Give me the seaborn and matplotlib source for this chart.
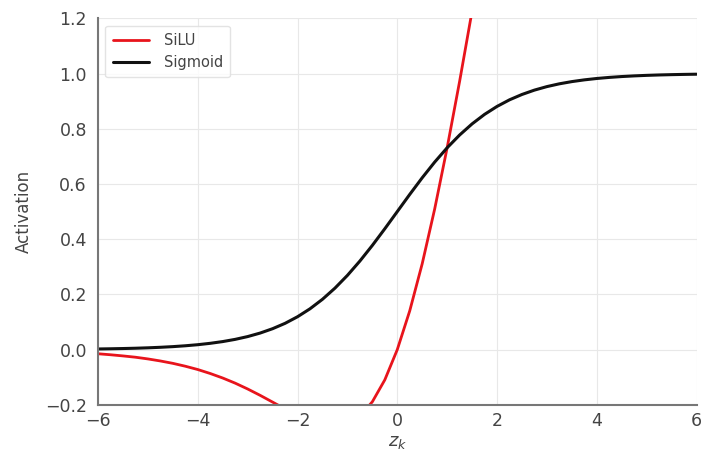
import matplotlib
matplotlib.use("Agg")
import matplotlib.pyplot as plt
import seaborn as sns
import pandas as pd

x_sig = [-6.0, -5.75, -5.5, -5.25, -5.0, -4.75, -4.5, -4.25, -4.0, -3.75, -3.5, -3.25,
         -3.0, -2.75, -2.5, -2.25, -2.0, -1.75, -1.5, -1.25, -1.0, -0.75, -0.5, -0.25,
         0.0, 0.25, 0.5, 0.75, 1.0, 1.25, 1.5, 1.75, 2.0, 2.25, 2.5, 2.75, 3.0, 3.25,
         3.5, 3.75, 4.0, 4.25, 4.5, 4.75, 5.0, 5.25, 5.5, 5.75, 6.0]
sigmoid = [0.0025, 0.0032, 0.0041, 0.0052, 0.0067, 0.0086, 0.0110, 0.0141, 0.0180, 0.0230,
           0.0293, 0.0373, 0.0474, 0.0601, 0.0759, 0.0953, 0.1192, 0.1480, 0.1824, 0.2227,
           0.2689, 0.3208, 0.3775, 0.4378, 0.5000, 0.5622, 0.6225, 0.6792, 0.7311, 0.7773,
           0.8176, 0.8520, 0.8808, 0.9047, 0.9241, 0.9399, 0.9526, 0.9627, 0.9707, 0.9770,
           0.9820, 0.9859, 0.9890, 0.9914, 0.9933, 0.9948, 0.9959, 0.9968, 0.9975]

x_silu = [-6.0, -5.75, -5.5, -5.25, -5.0, -4.75, -4.5, -4.25, -4.0, -3.75, -3.5, -3.25,
          -3.0, -2.75, -2.5, -2.25, -2.0, -1.75, -1.5, -1.25, -1.0, -0.75, -0.5, -0.25,
          0.0, 0.25, 0.5, 0.75, 1.0, 1.25, 1.5, 1.75, 2.0]
silu = [-0.0148, -0.0184, -0.0226, -0.0273, -0.0335, -0.0409, -0.0495, -0.0599, -0.0719,
        -0.0863, -0.1026, -0.1212, -0.1423, -0.1653, -0.1898, -0.2144, -0.2384, -0.2590,
        -0.2736, -0.2784, -0.2689, -0.2406, -0.1888, -0.1094, 0.0, 0.1406, 0.3112, 0.5094,
        0.7311, 0.9716, 1.2264, 1.4910, 1.7616]

x_ticks = [-6, -4, -2, 0, 2, 4, 6]
y_ticks = [-0.2, 0.0, 0.2, 0.4, 0.6, 0.8, 1.0, 1.2]

sns.set_style("whitegrid")
plt.rcParams['font.family'] = ['DejaVu Sans']

fig, ax = plt.subplots(figsize=(7.05, 4.57), dpi=100)
fig.subplots_adjust(left=0.139, right=0.988, top=0.96, bottom=0.114)

df_silu = pd.DataFrame({"x": x_silu, "y": silu})
df_sig = pd.DataFrame({"x": x_sig, "y": sigmoid})
sns.lineplot(data=df_silu, x="x", y="y", ax=ax, color="#e8141c", lw=2, label="SiLU")
sns.lineplot(data=df_sig, x="x", y="y", ax=ax, color="#111111", lw=2.2, label="Sigmoid")

ax.set_xlim(-6, 6)
ax.set_ylim(-0.2, 1.2)
ax.set_xticks(x_ticks)
ax.set_yticks(y_ticks)
ax.set_xlabel(r"$z_k$", fontsize=13, color="#444444", labelpad=2)
ax.set_ylabel("Activation", fontsize=12, color="#444444", labelpad=9)
ax.tick_params(direction="in", length=4, labelsize=12.5, colors="#444444",
               color="#777777", width=1)
ax.tick_params(axis="y", pad=8)
ax.tick_params(axis="x", pad=5)
ax.grid(True, color="#e8e8e8", lw=0.8)
sns.despine(ax=ax)
for s in ["left", "bottom"]:
    ax.spines[s].set_color("#777777")
    ax.spines[s].set_linewidth(1.5)

leg = ax.legend(loc="upper left", fontsize=10.5, frameon=True, borderpad=0.5,
                handlelength=2.5, handletextpad=1.0)
leg.get_frame().set_edgecolor("#dddddd")
for t in leg.get_texts():
    t.set_color("#444444")

fig.savefig("out.png", dpi=100)
